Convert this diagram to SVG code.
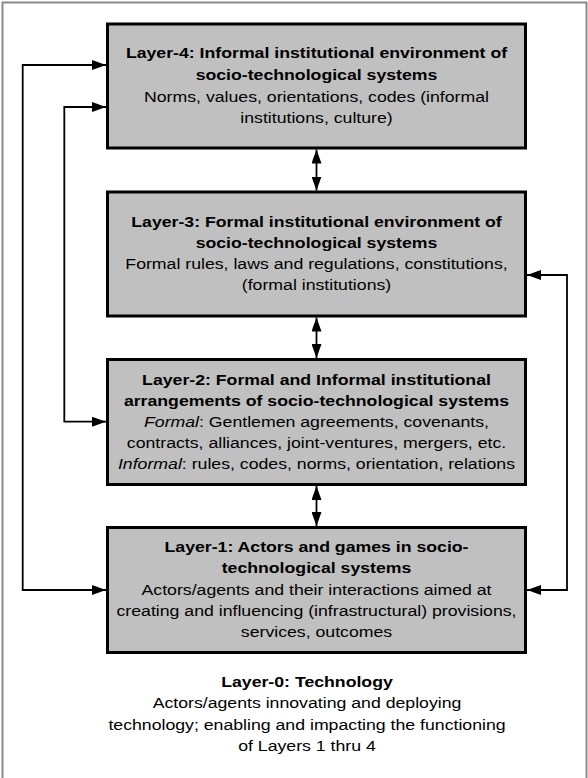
<svg xmlns="http://www.w3.org/2000/svg" width="588" height="778" viewBox="0 0 588 778">
<defs>
<marker id="ah" viewBox="0 0 14 10" refX="14" refY="5" markerWidth="14" markerHeight="10" markerUnits="userSpaceOnUse" orient="auto-start-reverse">
<path d="M0,0 L14,5 L0,10 Z" fill="#000"/>
</marker>
<style>
.box{fill:#c0c0c0;stroke:#000;stroke-width:3}
.t{font-family:"Liberation Sans",Arial,sans-serif;font-size:15px;fill:#000;text-anchor:middle}
.b{font-weight:bold}
.c{fill:none;stroke:#000;stroke-width:1.8}
</style>
</defs>
<rect x="2.5" y="2.5" width="584" height="800" fill="#fff" stroke="#8a8a8a" stroke-width="2"/>
<g id="layer4">
<rect class="box" x="107.5" y="24" width="418" height="124"/>
<g transform="translate(316.5 0) scale(1.18 1)">
<text class="t b" x="0" y="58">Layer-4: Informal institutional environment of</text>
<text class="t b" x="0" y="80">socio-technological systems</text>
<text class="t" x="0" y="102">Norms, values, orientations, codes (informal</text>
<text class="t" x="0" y="123">institutions, culture)</text>
</g>
</g>
<g id="layer3">
<rect class="box" x="107.5" y="192" width="418" height="124"/>
<g transform="translate(316.5 0) scale(1.18 1)">
<text class="t b" x="0" y="227">Layer-3: Formal institutional environment of</text>
<text class="t b" x="0" y="248">socio-technological systems</text>
<text class="t" x="0" y="269">Formal rules, laws and regulations, constitutions,</text>
<text class="t" x="0" y="290">(formal institutions)</text>
</g>
</g>
<g id="layer2">
<rect class="box" x="107.5" y="359.5" width="418" height="125"/>
<g transform="translate(316.5 0) scale(1.18 1)">
<text class="t b" x="0" y="385">Layer-2: Formal and Informal institutional</text>
<text class="t b" x="0" y="406">arrangements of socio-technological systems</text>
<text class="t" x="0" y="427"><tspan font-style="italic">Formal</tspan>: Gentlemen agreements, covenants,</text>
<text class="t" x="0" y="448">contracts, alliances, joint-ventures, mergers, etc.</text>
<text class="t" x="0" y="469"><tspan font-style="italic">Informal</tspan>: rules, codes, norms, orientation, relations</text>
</g>
</g>
<g id="layer1">
<rect class="box" x="107.5" y="527.5" width="418" height="125"/>
<g transform="translate(316.5 0) scale(1.18 1)">
<text class="t b" x="0" y="552">Layer-1: Actors and games in socio-</text>
<text class="t b" x="0" y="573">technological systems</text>
<text class="t" x="0" y="595">Actors/agents and their interactions aimed at</text>
<text class="t" x="0" y="616">creating and influencing (infrastructural) provisions,</text>
<text class="t" x="0" y="637">services, outcomes</text>
</g>
</g>
<g id="layer0">
<g transform="translate(307 0) scale(1.18 1)">
<text class="t b" x="0" y="687">Layer-0: Technology</text>
<text class="t" x="0" y="708">Actors/agents innovating and deploying</text>
<text class="t" x="0" y="730">technology; enabling and impacting the functioning</text>
<text class="t" x="0" y="751">of Layers 1 thru 4</text>
</g>
</g>
<g id="connectors">
<path class="c" d="M316.5 149.5 V190.5" marker-start="url(#ah)" marker-end="url(#ah)"/>
<path class="c" d="M316.5 317.5 V358" marker-start="url(#ah)" marker-end="url(#ah)"/>
<path class="c" d="M316.5 486 V526" marker-start="url(#ah)" marker-end="url(#ah)"/>
<path class="c" d="M106 590 H22.7 V65 H106" marker-start="url(#ah)" marker-end="url(#ah)"/>
<path class="c" d="M106 421.7 H64.3 V107 H106" marker-start="url(#ah)" marker-end="url(#ah)"/>
<path class="c" d="M527 275 H567 V590 H527" marker-start="url(#ah)" marker-end="url(#ah)"/>
</g>
</svg>
